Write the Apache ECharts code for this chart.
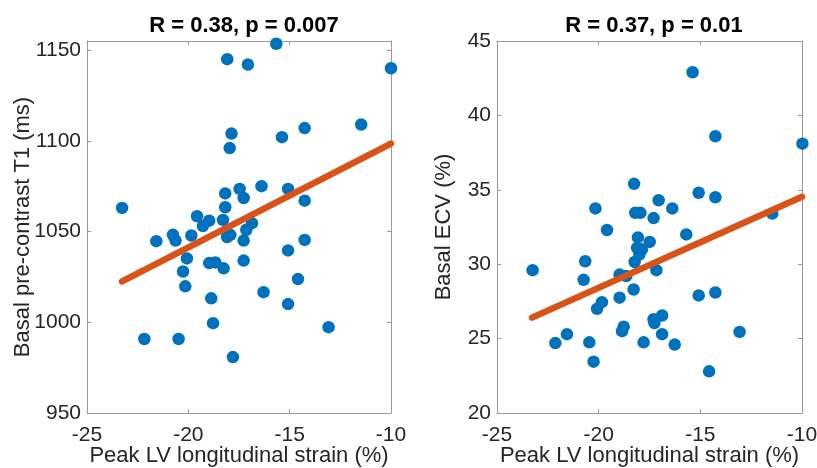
<!DOCTYPE html>
<html>
<head>
<meta charset="utf-8">
<script src="https://cdn.jsdelivr.net/npm/echarts@6/dist/echarts.min.js"></script>
<style>
html,body{margin:0;padding:0;background:#fff;}
#chart{width:817px;height:468px;}
</style>
</head>
<body>
<div id="chart"></div>
<script>
// ---- Data ----
var titles = ['R = 0.38, p = 0.007', 'R = 0.37, p = 0.01'];
var xAxisName = 'Peak LV longitudinal strain (%)';
var yAxisNames = ['Basal pre-contrast T1 (ms)', 'Basal ECV (%)'];
var xTicks = [-25, -20, -15, -10];
var leftYTicks = [950, 1000, 1050, 1100, 1150];
var rightYTicks = [20, 25, 30, 35, 40, 45];

var leftStrain = [-15.66,-18.08,-17.06,-10.0,-17.87,-17.96,-15.38,-14.26,-11.47,-23.27,
  -18.18,-17.47,-17.27,-16.39,-15.08,-14.26,-18.18,-19.57,-18.97,-19.28,
  -18.29,-16.86,-17.14,-21.58,-20.76,-20.63,-19.85,-18.09,-17.93,-17.27,
  -14.26,-15.08,-20.07,-18.97,-18.67,-18.26,-17.27,-20.26,-20.15,-14.59,
  -16.29,-18.87,-15.08,-18.78,-13.08,-22.17,-20.48,-17.80];
var leftT1 = [1153.5,1145,1142,1140,1104,1096,1102,1107,1109,1063,
  1071,1073.5,1068.5,1075,1073.5,1067,1063.4,1058.4,1056,1053,
  1056.4,1054.6,1051,1044.7,1048.2,1045,1047.8,1047,1048.2,1045,
  1045.4,1039.6,1035.2,1032.6,1033,1029.7,1034,1028,1019.8,1023.8,
  1016.6,1013.2,1010,999.5,997.3,990.8,990.8,980.8];
var leftFitX = [-23.27, -10.0];
var leftFitY = [1022.5, 1098.5];

var rightStrain = [-15.38,-14.26,-9.98,-18.26,-15.08,-14.26,-17.05,-20.16,-16.38,-18.2,
  -17.95,-17.3,-11.46,-19.59,-15.69,-18.07,-17.49,-18.11,-17.87,-18.0,
  -18.23,-20.66,-23.25,-17.16,-20.74,-18.97,-18.64,-18.28,-15.08,-14.26,
  -19.84,-20.08,-18.97,-16.88,-17.3,-17.26,-18.77,-18.85,-21.56,-16.88,
  -13.07,-22.13,-20.46,-17.79,-16.26,-20.25,-14.57];
var rightECV = [42.9,38.6,38.1,35.4,34.8,34.5,34.3,33.75,33.75,33.45,
  33.45,33.1,33.4,32.3,32.0,31.8,31.5,31.1,31.0,30.65,
  30.15,30.2,29.6,29.6,28.95,29.3,29.2,28.3,27.9,28.1,
  27.45,27.0,27.75,26.55,26.3,26.05,25.8,25.5,25.3,25.3,
  25.45,24.7,24.75,24.75,24.6,23.45,22.8];
var rightFitX = [-23.28, -10.0];
var rightFitY = [26.41, 34.53];

// ---- Styling ----
var FONT = '"Liberation Sans", Arial, Helvetica, sans-serif';
var TXT = '#262626';
var AX = '#9a9a9a';
var BLUE = '#0072BD';
var ORANGE = '#D95319';

function zip(a, b) { return a.map(function (v, i) { return [v, b[i]]; }); }
function tickFmt(list) { return function (v) { return list.indexOf(v) >= 0 ? String(v) : ''; }; }

var grids = [
  { left: 87, top: 41, width: 304, height: 372, containLabel: false, outerBoundsMode: 'none' },
  { left: 497, top: 41, width: 305, height: 372, containLabel: false, outerBoundsMode: 'none' }
];
var yExt = [[950, 1155, 50, leftYTicks], [20, 45, 5, rightYTicks]];

var xAxes = [], yAxes = [];
[0, 1].forEach(function (g) {
  xAxes.push({
    type: 'value', gridIndex: g, position: 'bottom', min: -25, max: -10, interval: 5,
    name: xAxisName, nameLocation: 'middle', nameGap: 32, nameMoveOverlap: false,
    nameTextStyle: { fontFamily: FONT, fontSize: 22, color: TXT },
    axisLine: { show: true, lineStyle: { color: AX, width: 1 } },
    axisTick: { show: true, inside: true, length: 4, lineStyle: { color: AX } },
    axisLabel: { fontFamily: FONT, fontSize: 21, color: TXT, margin: 12, formatter: tickFmt(xTicks) },
    splitLine: { show: false }
  });
  xAxes.push({
    type: 'value', gridIndex: g, position: 'top', min: -25, max: -10, interval: 5,
    axisLine: { show: true, lineStyle: { color: AX, width: 1 } },
    axisTick: { show: true, inside: true, length: 4, lineStyle: { color: AX } },
    axisLabel: { show: false }, splitLine: { show: false }
  });
  var e = yExt[g];
  yAxes.push({
    type: 'value', gridIndex: g, position: 'left', min: e[0], max: e[1], interval: e[2],
    name: yAxisNames[g], nameLocation: 'middle', nameGap: g === 0 ? 53 : 42, nameRotate: 90,
    nameMoveOverlap: false,
    nameTextStyle: { fontFamily: FONT, fontSize: 22, color: TXT },
    axisLine: { show: true, lineStyle: { color: AX, width: 1 } },
    axisTick: { show: true, inside: true, length: 4, lineStyle: { color: AX } },
    axisLabel: { fontFamily: FONT, fontSize: 21, color: TXT, margin: 6, formatter: tickFmt(e[3]) },
    splitLine: { show: false }
  });
  yAxes.push({
    type: 'value', gridIndex: g, position: 'right', min: e[0], max: e[1], interval: e[2],
    axisLine: { show: true, lineStyle: { color: AX, width: 1 } },
    axisTick: { show: true, inside: true, length: 4, lineStyle: { color: AX } },
    axisLabel: { show: false }, splitLine: { show: false }
  });
});

var option = {
  backgroundColor: '#ffffff',
  animation: false,
  title: [
    { text: titles[0], left: 239, top: 10, textAlign: 'center',
      textStyle: { fontFamily: FONT, fontSize: 22, fontWeight: 'bold', color: '#000' } },
    { text: titles[1], left: 649, top: 10, textAlign: 'center',
      textStyle: { fontFamily: FONT, fontSize: 22, fontWeight: 'bold', color: '#000' } }
  ],
  grid: grids,
  xAxis: xAxes,
  yAxis: yAxes,
  series: [
    { type: 'scatter', xAxisIndex: 0, yAxisIndex: 0, data: zip(leftStrain, leftT1),
      symbol: 'circle', symbolSize: 12.5, clip: false, itemStyle: { color: BLUE, opacity: 1 }, z: 2 },
    { type: 'line', xAxisIndex: 0, yAxisIndex: 0, data: zip(leftFitX, leftFitY),
      showSymbol: false, symbol: 'none', lineStyle: { color: ORANGE, width: 6.5, cap: 'round' }, z: 3 },
    { type: 'scatter', xAxisIndex: 2, yAxisIndex: 2, data: zip(rightStrain, rightECV),
      symbol: 'circle', symbolSize: 12.5, clip: false, itemStyle: { color: BLUE, opacity: 1 }, z: 2 },
    { type: 'line', xAxisIndex: 2, yAxisIndex: 2, data: zip(rightFitX, rightFitY),
      showSymbol: false, symbol: 'none', lineStyle: { color: ORANGE, width: 6.5, cap: 'round' }, z: 3 }
  ]
};

var chart = echarts.init(document.getElementById('chart'), null, { renderer: 'canvas' });
chart.setOption(option);
</script>
</body>
</html>
